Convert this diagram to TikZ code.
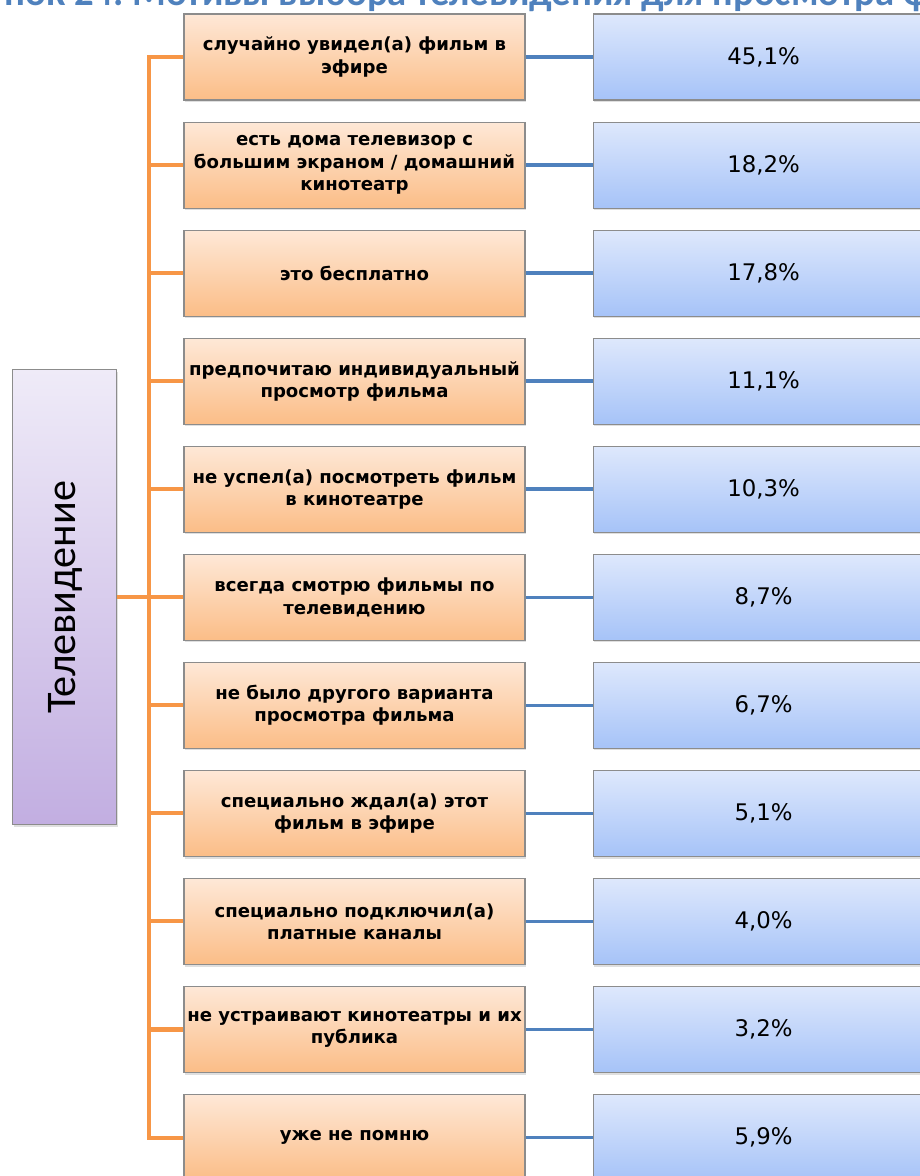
\documentclass[tikz,border=0pt]{standalone}
\usepackage{fontspec}
\setmainfont{DejaVu Sans}
\newfontfamily\calibrifont{Carlito}
\usepackage{xcolor}
\usepackage{graphicx}
\usepackage{tikz}
\usetikzlibrary{positioning,shadows}

\definecolor{reasontop}{HTML}{FEE8D7}
\definecolor{reasonbot}{HTML}{FBBD87}
\definecolor{sharetop}{HTML}{DEE8FC}
\definecolor{sharebot}{HTML}{A6C3F8}
\definecolor{mediatop}{HTML}{EFEBF8}
\definecolor{mediabot}{HTML}{C2AEE1}
\definecolor{boxedge}{HTML}{8C8C8C}
\definecolor{branch}{HTML}{F79646}
\definecolor{linkblue}{HTML}{4F81BD}
\definecolor{titleblue}{HTML}{4F81BD}

\begin{document}
\begin{tikzpicture}[node distance=0.42cm,
    reason/.style={rectangle, draw=boxedge, line width=0.6pt, top color=reasontop, bottom color=reasonbot, minimum width=6.82cm, minimum height=1.72cm, inner sep=1pt, align=center, font=\bfseries\fontsize{10.3}{12.7}\selectfont, drop shadow={opacity=0.25, shadow xshift=0.8pt, shadow yshift=-1.2pt}},
    share/.style={rectangle, draw=boxedge, line width=0.6pt, top color=sharetop, bottom color=sharebot, minimum width=6.82cm, minimum height=1.72cm, font=\fontsize{13}{15}\selectfont, drop shadow={opacity=0.25, shadow xshift=0.8pt, shadow yshift=-1.2pt}},
    media/.style={rectangle, draw=boxedge, line width=0.6pt, top color=mediatop, bottom color=mediabot, minimum width=2.08cm, minimum height=9.1cm, font=\calibrifont\fontsize{24}{28}\selectfont, drop shadow={opacity=0.25, shadow xshift=0.8pt, shadow yshift=-1.2pt}},
    trunk/.style={draw=branch, line width=2.3pt},
    link/.style={draw=linkblue, line width=2pt}]
    \useasboundingbox (0,0) rectangle (18.4,-23.52);
    \clip (0,0) rectangle (18.4,-23.52);

    \node (title) [anchor=base west, inner sep=0pt, text=titleblue, font=\calibrifont\bfseries\fontsize{22}{26}\selectfont] at (2.64,-0.1) {\llap{Рисунок 24.\ }Мотивы выбора телевидения для просмотра фильмов};

    % reasons
    \node (r1) [reason] at (7.09,-1.14) {случайно увидел(а) фильм в\\эфире};
    \node (r2) [reason, below=of r1] {есть дома телевизор с\\большим экраном / домашний\\кинотеатр};
    \node (r3) [reason, below=of r2] {это бесплатно};
    \node (r4) [reason, below=of r3] {предпочитаю индивидуальный\\просмотр фильма};
    \node (r5) [reason, below=of r4] {не успел(а) посмотреть фильм\\в кинотеатре};
    \node (r6) [reason, below=of r5] {всегда смотрю фильмы по\\телевидению};
    \node (r7) [reason, below=of r6] {не было другого варианта\\просмотра фильма};
    \node (r8) [reason, below=of r7] {специально ждал(а) этот\\фильм в эфире};
    \node (r9) [reason, below=of r8] {специально подключил(а)\\платные каналы};
    \node (r10) [reason, below=of r9] {не устраивают кинотеатры и их\\публика};
    \node (r11) [reason, below=of r10] {уже не помню};

    % shares
    \node (s1) [share, right=1.34cm of r1] {45,1\%};
    \node (s2) [share, right=1.34cm of r2] {18,2\%};
    \node (s3) [share, right=1.34cm of r3] {17,8\%};
    \node (s4) [share, right=1.34cm of r4] {11,1\%};
    \node (s5) [share, right=1.34cm of r5] {10,3\%};
    \node (s6) [share, right=1.34cm of r6] {8,7\%};
    \node (s7) [share, right=1.34cm of r7] {6,7\%};
    \node (s8) [share, right=1.34cm of r8] {5,1\%};
    \node (s9) [share, right=1.34cm of r9] {4,0\%};
    \node (s10) [share, right=1.34cm of r10] {3,2\%};
    \node (s11) [share, right=1.34cm of r11] {5,9\%};

    \node (tv) [media, left=1.32cm of r6] {\rotatebox{90}{Телевидение}};

    % tree
    \draw [trunk] (r1.west) -- ++(-0.68,0) |- (r11.west);
    \draw [trunk] (r2.west) -- ++(-0.68,0);
    \draw [trunk] (r3.west) -- ++(-0.68,0);
    \draw [trunk] (r4.west) -- ++(-0.68,0);
    \draw [trunk] (r5.west) -- ++(-0.68,0);
    \draw [trunk] (r7.west) -- ++(-0.68,0);
    \draw [trunk] (r8.west) -- ++(-0.68,0);
    \draw [trunk] (r9.west) -- ++(-0.68,0);
    \draw [trunk] (r10.west) -- ++(-0.68,0);
    \draw [trunk] (tv) -- (r6);

    \draw [link] (r1) -- (s1);
    \draw [link] (r2) -- (s2);
    \draw [link] (r3) -- (s3);
    \draw [link] (r4) -- (s4);
    \draw [link] (r5) -- (s5);
    \draw [link] (r6) -- (s6);
    \draw [link] (r7) -- (s7);
    \draw [link] (r8) -- (s8);
    \draw [link] (r9) -- (s9);
    \draw [link] (r10) -- (s10);
    \draw [link] (r11) -- (s11);
\end{tikzpicture}
\end{document}
